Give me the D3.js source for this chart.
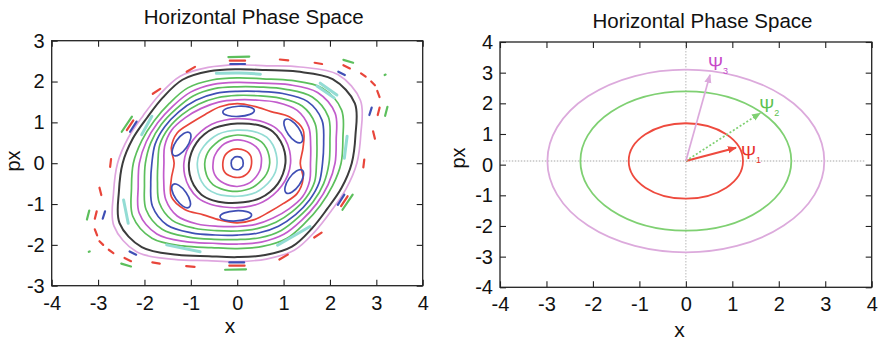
<!DOCTYPE html>
<html>
<head>
<meta charset="utf-8">
<script src="https://cdn.jsdelivr.net/npm/d3@7"></script>
<style>
  body { margin: 0; background: #fff; }
  text { font-family: "Liberation Sans", Arial, sans-serif; }
</style>
</head>
<body>
<svg id="chart" width="879" height="339"></svg>
<script>
// ---------------- left panel: tracked orbits ----------------
const leftXTicks = [-4, -3, -2, -1, 0, 1, 2, 3, 4];
const leftYTicks = [-3, -2, -1, 0, 1, 2, 3];

// closed orbits, radius read at these angles (deg); the picture is point-symmetric
const orbitAngles = [0, 15, 30, 45, 60, 75, 90, 105, 120, 135, 150, 165];
const orbitFamily = ["pink", "black", "green", "magenta", "green", "blue", "green", "magenta",
                     "magenta", "black", "cyan", "green", "magenta", "red", "blue"];
const orbitRadii = [
  [2.58, 2.76, 3.07, 3.07, 2.72, 2.47, 2.41, 2.43, 2.46, 2.37, 2.34, 2.43],
  [2.47, 2.64, 2.93, 2.91, 2.59, 2.36, 2.30, 2.33, 2.36, 2.27, 2.24, 2.33],
  [2.24, 2.36, 2.60, 2.60, 2.34, 2.14, 2.09, 2.11, 2.13, 2.07, 2.07, 2.13],
  [2.11, 2.21, 2.44, 2.45, 2.22, 2.03, 1.98, 2.00, 2.01, 1.97, 1.98, 2.03],
  [1.98, 2.07, 2.27, 2.29, 2.09, 1.93, 1.87, 1.89, 1.90, 1.87, 1.89, 1.93],
  [1.84, 1.93, 2.11, 2.14, 1.97, 1.82, 1.76, 1.77, 1.78, 1.78, 1.80, 1.83],
  [1.71, 1.78, 1.94, 1.98, 1.84, 1.71, 1.66, 1.66, 1.67, 1.68, 1.71, 1.73],
  [1.58, 1.64, 1.78, 1.83, 1.72, 1.60, 1.55, 1.55, 1.55, 1.58, 1.63, 1.62],
  [1.15, 1.17, 1.19, 1.20, 1.16, 1.11, 1.09, 1.09, 1.10, 1.10, 1.11, 1.13],
  [1.04, 1.06, 1.08, 1.09, 1.05, 1.00, 0.97, 0.97, 0.99, 1.00, 1.01, 1.02],
  [0.86, 0.87, 0.89, 0.90, 0.87, 0.83, 0.81, 0.81, 0.82, 0.82, 0.83, 0.85],
  [0.70, 0.71, 0.73, 0.74, 0.72, 0.70, 0.69, 0.68, 0.68, 0.67, 0.68, 0.69],
  [0.52, 0.54, 0.56, 0.57, 0.57, 0.57, 0.57, 0.56, 0.55, 0.53, 0.52, 0.52],
  [0.31, 0.32, 0.34, 0.35, 0.35, 0.35, 0.35, 0.35, 0.34, 0.33, 0.32, 0.31],
  [0.13, 0.13, 0.14, 0.15, 0.16, 0.16, 0.16, 0.16, 0.15, 0.14, 0.14, 0.13]
];

// wavy separatrix around the 6-island chain
const wavyAngles = [0, 15, 30, 45, 60, 75, 90, 105, 120, 135, 150, 165];
const wavyRadii = [1.36, 1.47, 1.64, 1.60, 1.46, 1.44, 1.46, 1.43, 1.38, 1.40, 1.49, 1.47];

// islands of the 6th-order resonance
const islandX = [0.03, -0.03, 1.21, -1.21, 1.23, -1.20];
const islandY = [1.27, -1.29, 0.79, -0.80, -0.45, 0.47];
const islandLong = [0.34, 0.34, 0.30, 0.30, 0.30, 0.30];
const islandShort = [0.11, 0.11, 0.13, 0.13, 0.13, 0.13];
const islandTilt = [-3, -3, 55, 55, -55, -55];

// outer broken chains: short dashes [x1, y1, x2, y2]
const redDashes = [
  [-1.09, 2.24, -0.91, 2.36], [1.09, -2.24, 0.91, -2.36],
  [-1.82, 1.70, -1.66, 1.82], [1.82, -1.70, 1.66, -1.82],
  [-2.74, -0.09, -2.72, 0.10], [2.74, 0.09, 2.72, -0.10],
  [0.92, 2.54, 1.10, 2.52], [-0.92, -2.54, -1.10, -2.52],
  [1.67, 2.46, 1.83, 2.43], [-1.67, -2.46, -1.83, -2.43],
  [2.67, 2.20, 2.77, 2.12], [-2.67, -2.20, -2.77, -2.12],
  [2.89, 2.00, 2.97, 1.91], [-2.89, -2.00, -2.97, -1.91],
  [3.02, 1.77, 3.07, 1.62], [-3.02, -1.77, -3.07, -1.62],
  [2.93, 0.78, 2.97, 0.60], [-2.93, -0.78, -2.97, -0.60],
  [-0.16, 2.51, 0.17, 2.51], [0.16, -2.51, -0.17, -2.51],
  [2.29, 2.40, 2.43, 2.32], [-2.29, -2.40, -2.43, -2.32],
  [3.03, 1.18, 3.07, 1.36], [-3.03, -1.18, -3.07, -1.36],
  [-2.38, 0.81, -2.24, 1.05], [2.38, -0.81, 2.24, -1.05]
];
const greenDashes = [
  [-0.19, 2.60, 0.26, 2.61], [0.19, -2.60, -0.26, -2.61],
  [2.29, 2.53, 2.50, 2.46], [-2.29, -2.53, -2.50, -2.46],
  [3.19, 1.16, 3.24, 1.38], [-3.19, -1.16, -3.24, -1.38],
  [-2.49, 0.77, -2.27, 1.14], [2.49, -0.77, 2.27, -1.14],
  [3.18, 2.16, 3.20, 2.17], [-3.18, -2.16, -3.20, -2.17]
];
const blueDashes = [
  [-0.15, 2.43, 0.17, 2.43], [0.15, -2.43, -0.17, -2.43],
  [2.18, 2.24, 2.32, 2.16], [-2.18, -2.24, -2.32, -2.16],
  [2.85, 1.18, 2.90, 1.36], [-2.85, -1.18, -2.90, -1.36],
  [-2.31, 0.77, -2.17, 1.02], [2.31, -0.77, 2.17, -1.02]
];
// thin cyan islands between the black orbit and the green one
const cyanPieces = [
  [[-0.45, 2.20], [0.05, 2.21], [0.50, 2.18]],
  [[1.79, 1.96], [2.15, 1.67]],
  [[1.72, 1.89], [2.09, 1.60]],
  [[2.37, 0.66], [2.31, 0.12]],
  [[0.87, -2.01], [1.57, -1.55]],
  [[-1.52, -2.00], [-0.80, -2.17]],
  [[-2.45, -0.90], [-2.35, -1.47]],
  [[-2.06, 0.70], [-1.84, 1.15]]
];

// ---------------- right panel: invariant circles ----------------
const rightTicks = [-4, -3, -2, -1, 0, 1, 2, 3, 4];
const circleNames = ["\u03A8", "\u03A8", "\u03A8"];
const circleIndex = ["1", "2", "3"];
const circleRadius = [1.23, 2.27, 2.98];
const circleCenter = [0, 0.12];
const arrowTipX = [1.08, 1.60, 0.52];
const arrowTipY = [0.55, 1.68, 2.93];

const colors = {
  pink: "#dfa6df", magenta: "#c25ccc", green: "#5cbf5c", blue: "#3f4fb5",
  red: "#e8453a", black: "#3c3c3c", cyan: "#93dcd4"
};
const rightColors = ["#ee4a3e", "#7fd072", "#dcaadc"];
const labelColors = ["#e8302a", "#5cc24f", "#c648c8"];

const svg = d3.select("#chart");
const FONT = '"Liberation Sans", Arial, sans-serif';

function panel(x, y, xt, yt) {
  const g = svg.append("g");
  const [x0, x1] = x.range(), [y0, y1] = y.range();
  const fmt = d => String(d);
  const styleAxis = a => {
    a.attr("font-size", 20).attr("font-family", FONT);
    a.select(".domain").remove();
    a.selectAll(".tick line").attr("stroke", "#222").attr("stroke-width", 1.1);
    a.selectAll("text").attr("fill", "#111");
  };
  g.append("g").attr("transform", `translate(0,${y0})`)
    .call(d3.axisBottom(x).tickValues(xt).tickFormat(fmt).tickSizeInner(-6).tickSizeOuter(0).tickPadding(10))
    .call(styleAxis);
  g.append("g").attr("transform", `translate(0,${y1})`)
    .call(d3.axisTop(x).tickValues(xt).tickSizeInner(-6).tickSizeOuter(0).tickFormat(""))
    .call(styleAxis);
  g.append("g").attr("transform", `translate(${x0},0)`)
    .call(d3.axisLeft(y).tickValues(yt).tickFormat(fmt).tickSizeInner(-6).tickSizeOuter(0).tickPadding(7))
    .call(styleAxis);
  g.append("g").attr("transform", `translate(${x1},0)`)
    .call(d3.axisRight(y).tickValues(yt).tickSizeInner(-6).tickSizeOuter(0).tickFormat(""))
    .call(styleAxis);
  g.append("rect").attr("x", x0).attr("y", y1).attr("width", x1 - x0).attr("height", y0 - y1)
    .attr("fill", "none").attr("stroke", "#222").attr("stroke-width", 1.3);
  return g;
}

// ---------- left ----------
const xL = d3.scaleLinear().domain([-4, 4]).range([51.7, 422.7]);
const yL = d3.scaleLinear().domain([-3, 3]).range([285.7, 40.7]);

const plotL = svg.append("g");
const closedL = d3.line().x(d => xL(d[0])).y(d => yL(d[1])).curve(d3.curveCatmullRomClosed.alpha(0.5));
const openL = d3.line().x(d => xL(d[0])).y(d => yL(d[1])).curve(d3.curveCatmullRom.alpha(0.5));

function polar(angles, radii) {
  const pts = [];
  [0, 180].forEach(off => angles.forEach((a, i) => {
    const t = (a + off) * Math.PI / 180;
    pts.push([radii[i] * Math.cos(t), radii[i] * Math.sin(t)]);
  }));
  return pts;
}

plotL.selectAll("path.orbit").data(orbitRadii).join("path")
  .attr("class", "orbit")
  .attr("d", r => closedL(polar(orbitAngles, r)))
  .attr("fill", "none")
  .attr("stroke", (r, i) => colors[orbitFamily[i]])
  .attr("stroke-width", (r, i) => orbitFamily[i] === "black" ? 2 : 1.7);

plotL.append("path")
  .attr("d", closedL(polar(wavyAngles, wavyRadii)))
  .attr("fill", "none").attr("stroke", colors.red).attr("stroke-width", 1.7);

plotL.selectAll("ellipse.island").data(islandX).join("ellipse")
  .attr("class", "island")
  .attr("cx", d => xL(d)).attr("cy", (d, i) => yL(islandY[i]))
  .attr("rx", (d, i) => xL(islandLong[i]) - xL(0))
  .attr("ry", (d, i) => xL(islandShort[i]) - xL(0))
  .attr("transform", (d, i) => `rotate(${islandTilt[i]},${xL(d)},${yL(islandY[i])})`)
  .attr("fill", "none").attr("stroke", colors.blue).attr("stroke-width", 1.7);

plotL.selectAll("path.cyan").data(cyanPieces).join("path")
  .attr("class", "cyan")
  .attr("d", d => openL(d))
  .attr("fill", "none").attr("stroke", colors.cyan).attr("stroke-width", 3)
  .attr("stroke-linecap", "round");

[[redDashes, colors.red], [greenDashes, colors.green], [blueDashes, colors.blue]].forEach(([set, c]) => {
  plotL.selectAll(null).data(set).join("line")
    .attr("x1", d => xL(d[0])).attr("y1", d => yL(d[1]))
    .attr("x2", d => xL(d[2])).attr("y2", d => yL(d[3]))
    .attr("stroke", c).attr("stroke-width", 2.2).attr("stroke-linecap", "round");
});

panel(xL, yL, leftXTicks, leftYTicks);

svg.append("text").attr("x", 253.7).attr("y", 24).attr("text-anchor", "middle")
  .attr("font-size", 20.5).attr("fill", "#111").text("Horizontal Phase Space");
svg.append("text").attr("x", 230).attr("y", 333).attr("text-anchor", "middle")
  .attr("font-size", 21).attr("fill", "#111").text("x");
svg.append("text").attr("transform", "translate(20,161) rotate(-90)").attr("text-anchor", "middle")
  .attr("font-size", 20).attr("fill", "#111").text("px");

// ---------- right ----------
const xR = d3.scaleLinear().domain([-4, 4]).range([500, 871.7]);
const yR = d3.scaleLinear().domain([-4, 4]).range([287.3, 42]);
const plotR = svg.append("g");

plotR.append("line")
  .attr("x1", xR(-3.94)).attr("x2", xR(3.86)).attr("y1", yR(circleCenter[1])).attr("y2", yR(circleCenter[1]))
  .attr("stroke", "#c4c4c4").attr("stroke-width", 1.4).attr("stroke-dasharray", "1.5,1.5");
plotR.append("line")
  .attr("x1", xR(circleCenter[0])).attr("x2", xR(circleCenter[0])).attr("y1", yR(4)).attr("y2", yR(-3.76))
  .attr("stroke", "#c4c4c4").attr("stroke-width", 1.2).attr("stroke-dasharray", "1.5,1.5");

plotR.selectAll("ellipse.circ").data(circleRadius).join("ellipse")
  .attr("class", "circ")
  .attr("cx", xR(circleCenter[0])).attr("cy", yR(circleCenter[1]))
  .attr("rx", d => xR(d) - xR(0)).attr("ry", d => yR(0) - yR(d))
  .attr("fill", "none").attr("stroke", (d, i) => rightColors[i]).attr("stroke-width", 1.8);

const defs = svg.append("defs");
rightColors.forEach((c, i) => {
  defs.append("marker").attr("id", "arr" + i)
    .attr("viewBox", "0 0 10 10").attr("refX", 9).attr("refY", 5)
    .attr("markerWidth", 9).attr("markerHeight", 9).attr("markerUnits", "userSpaceOnUse")
    .attr("orient", "auto")
    .append("path").attr("d", "M0,1 L10,5 L0,9 Z").attr("fill", c);
});

plotR.selectAll("line.vec").data(arrowTipX).join("line")
  .attr("class", "vec")
  .attr("x1", xR(circleCenter[0])).attr("y1", yR(circleCenter[1]))
  .attr("x2", d => xR(d)).attr("y2", (d, i) => yR(arrowTipY[i]))
  .attr("stroke", (d, i) => rightColors[i])
  .attr("stroke-width", (d, i) => i === 0 ? 2 : 1.7)
  .attr("stroke-dasharray", (d, i) => i === 1 ? "2,2" : null)
  .attr("marker-end", (d, i) => `url(#arr${i})`);

const labOffX = [5, -1, -2];
const labOffY = [11, -1, -5];
circleNames.forEach((n, i) => {
  const t = plotR.append("text")
    .attr("x", xR(arrowTipX[i]) + labOffX[i]).attr("y", yR(arrowTipY[i]) + labOffY[i])
    .attr("font-family", '"DejaVu Serif", "Liberation Serif", serif')
    .attr("font-size", 18).attr("fill", labelColors[i]);
  t.append("tspan").text(n);
  t.append("tspan").attr("font-size", 9).attr("dy", 4).text(circleIndex[i]);
});

panel(xR, yR, rightTicks, rightTicks);

svg.append("text").attr("x", 702.5).attr("y", 28).attr("text-anchor", "middle")
  .attr("font-size", 20.5).attr("fill", "#111").text("Horizontal Phase Space");
svg.append("text").attr("x", 679.5).attr("y", 336.5).attr("text-anchor", "middle")
  .attr("font-size", 21).attr("fill", "#111").text("x");
svg.append("text").attr("transform", "translate(465,158) rotate(-90)").attr("text-anchor", "middle")
  .attr("font-size", 20).attr("fill", "#111").text("px");
</script>
</body>
</html>
